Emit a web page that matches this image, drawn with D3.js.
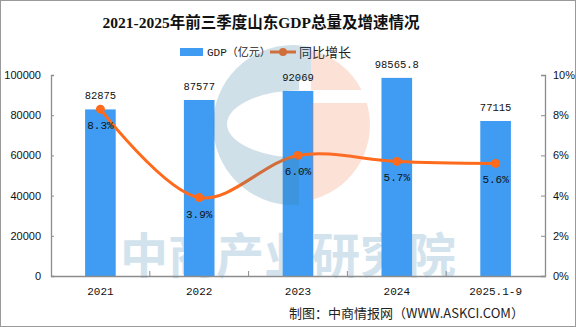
<!DOCTYPE html>
<html><head><meta charset="utf-8">
<script src="https://cdn.jsdelivr.net/npm/d3@7"></script>
<style>body{margin:0;background:#fff}svg{display:block}</style>
</head><body><svg id="c" width="576" height="327"></svg>
<script>
const categories = ["2021", "2022", "2023", "2024", "2025.1-9"];
const gdpValues = [82875, 87577, 92069, 98565.8, 77115];
const gdpLabels = ["82875", "87577", "92069", "98565.8", "77115"];
const growthValues = [8.3, 3.9, 6.0, 5.7, 5.6];
const growthLabels = ["8.3%", "3.9%", "6.0%", "5.7%", "5.6%"];
const leftTicks = [0, 20000, 40000, 60000, 80000, 100000];
const rightTicks = [0, 2, 4, 6, 8, 10];

const svg = d3.select("#c");
const W = 576, H = 327;
const m = {l: 51, r: 545, t: 75, b: 276};
const blue = "#3f9cf2", orange = "#ff6a1c", axisCol = "#8c8c8c";
const mono = "'Liberation Mono', 'DejaVu Sans Mono', 'Noto Sans CJK SC', monospace";
const sans = "'Liberation Sans', Arial, 'Noto Sans CJK SC', sans-serif";

svg.append("rect").attr("x",0.5).attr("y",0.5).attr("width",W-1).attr("height",H-1)
  .attr("fill","#fff").attr("stroke","#9a9a9a");

const x = d3.scaleBand().domain(categories).range([m.l, m.r]).padding(0);
const y = d3.scaleLinear().domain([0, 100000]).range([m.b, m.t]);
const y2 = d3.scaleLinear().domain([0, 10]).range([m.b, m.t]);

// text watermark (behind)
svg.append("text").attr("x", 288).attr("y", 273).attr("text-anchor","middle")
  .attr("font-family","'Noto Sans CJK SC'").attr("font-weight","bold").attr("font-size",48)
  .attr("fill","#d3e3ee").text("中商产业研究院");

// title
svg.append("text").attr("x", 261).attr("y", 28).attr("text-anchor","middle")
  .attr("font-family","'Liberation Serif','DejaVu Serif','Noto Sans CJK SC',serif")
  .attr("font-weight","bold").attr("font-size",15.5).attr("fill","#111")
  .text("2021-2025年前三季度山东GDP总量及增速情况");

// legend
svg.append("rect").attr("x",180).attr("y",48).attr("width",23).attr("height",8).attr("fill",blue);
svg.append("text").attr("x",207).attr("y",56).attr("font-family",mono).attr("font-size",11)
  .attr("fill","#222").text("GDP（亿元）");
svg.append("line").attr("x1",270).attr("x2",296).attr("y1",52).attr("y2",52)
  .attr("stroke",orange).attr("stroke-width",3);
svg.append("circle").attr("cx",283).attr("cy",52).attr("r",4).attr("fill",orange);
svg.append("text").attr("x",299).attr("y",57).attr("font-family","'Noto Sans CJK SC'").attr("font-size",13)
  .attr("fill","#222").text("同比增长");

// bars
const bw = x.bandwidth() * 0.31;
svg.append("g").selectAll("rect").data(gdpValues).join("rect")
  .attr("x",(d,i)=>x(categories[i]) + x.bandwidth()/2 - bw/2)
  .attr("y",d=>y(d)).attr("width",bw).attr("height",d=>m.b - y(d)).attr("fill",blue);

// line
const line = d3.line().x((d,i)=>x(categories[i]) + x.bandwidth()/2).y(d=>y2(d))
  .curve(d3.curveCatmullRom.alpha(0.5));
svg.append("path").datum(growthValues).attr("d",line).attr("fill","none")
  .attr("stroke",orange).attr("stroke-width",3);
svg.append("g").selectAll("circle").data(growthValues).join("circle")
  .attr("cx",(d,i)=>x(categories[i]) + x.bandwidth()/2).attr("cy",d=>y2(d)).attr("r",4.5).attr("fill",orange);

// logo watermark (on top, translucent)
const cx = 293, cy = 125, R = 80;
const defs = svg.append("defs");
const mk = defs.append("mask").attr("id","bm");
mk.append("rect").attr("x",0).attr("y",0).attr("width",W).attr("height",H).attr("fill","#000");
mk.append("circle").attr("cx",cx).attr("cy",cy).attr("r",R).attr("fill","#fff");
mk.append("rect").attr("x",cx+6).attr("y",cy-R-2).attr("width",R).attr("height",R*2+4).attr("fill","#000");
mk.append("ellipse").attr("cx",cx+10).attr("cy",cy-1).attr("rx",R-4).attr("ry",34).attr("fill","#000");
const mk2 = defs.append("mask").attr("id","om");
mk2.append("rect").attr("x",0).attr("y",0).attr("width",W).attr("height",H).attr("fill","#000");
mk2.append("circle").attr("cx",cx).attr("cy",cy).attr("r",R-3).attr("fill","#fff");
mk2.append("rect").attr("x",cx-R).attr("y",cy-R).attr("width",R+18).attr("height",R*2).attr("fill","#000");
mk2.append("rect").attr("x",cx).attr("y",cy-35).attr("width",R).attr("height",13).attr("fill","#000");
const mk3 = defs.append("mask").attr("id","tm");
mk3.append("rect").attr("x",0).attr("y",0).attr("width",W).attr("height",H).attr("fill","#000");
mk3.append("circle").attr("cx",cx).attr("cy",cy).attr("r",R).attr("fill","#fff");
mk3.append("rect").attr("x",cx-R).attr("y",cy-R+35).attr("width",R*2).attr("height",R*2).attr("fill","#000");
mk3.append("rect").attr("x",cx+18).attr("y",cy-R).attr("width",R).attr("height",R*2).attr("fill","#000");
mk3.append("rect").attr("x",cx-R).attr("y",cy-R).attr("width",R+6).attr("height",R*2).attr("fill","#000");
svg.append("rect").attr("width",W).attr("height",H).attr("fill","rgba(60,125,165,0.24)").attr("mask","url(#bm)");
svg.append("rect").attr("width",W).attr("height",H).attr("fill","rgba(60,125,165,0.24)").attr("mask","url(#tm)");
svg.append("rect").attr("width",W).attr("height",H).attr("fill","rgba(240,120,70,0.22)").attr("mask","url(#om)");

// axes
const gl = svg.append("g").attr("transform",`translate(${m.l},0)`)
  .call(d3.axisLeft(y).tickValues(leftTicks).tickSize(-3).tickPadding(10).tickFormat(d3.format("d")));
const gr = svg.append("g").attr("transform",`translate(${m.r},0)`)
  .call(d3.axisRight(y2).tickValues(rightTicks).tickSize(-4).tickPadding(8).tickFormat(d=>d+"%"));
const gb = svg.append("g").attr("transform",`translate(0,${m.b})`)
  .call(d3.axisBottom(x).tickSize(0).tickPadding(11));
[gl, gr, gb].forEach(g=>{
  g.select(".domain").attr("stroke",axisCol).attr("stroke-width",1.3);
  g.selectAll(".tick line").attr("stroke",axisCol);
  g.selectAll("text").attr("fill","#111").attr("font-size",11);
});
gl.selectAll("text").attr("font-family",sans);
gr.selectAll("text").attr("font-family",sans);
gb.selectAll("text").attr("font-family",mono).attr("font-size",11);
// category boundary ticks
svg.append("g").selectAll("line").data(categories.slice(1)).join("line")
  .attr("x1",d=>x(d)).attr("x2",d=>x(d)).attr("y1",m.b).attr("y2",m.b-5).attr("stroke",axisCol);

// labels
svg.append("g").selectAll("text").data(gdpValues).join("text")
  .attr("x",(d,i)=>x(categories[i]) + x.bandwidth()/2).attr("y",d=>y(d)-10)
  .attr("text-anchor","middle").attr("font-family",mono).attr("font-size",10.5).attr("fill","#111")
  .text((d,i)=>gdpLabels[i]);
svg.append("g").selectAll("text").data(growthValues).join("text")
  .attr("x",(d,i)=>x(categories[i]) + x.bandwidth()/2).attr("y",d=>y2(d)+20)
  .attr("text-anchor","middle").attr("font-family",mono).attr("font-size",11).attr("fill","#111")
  .text((d,i)=>growthLabels[i]);

// footer
svg.append("text").attr("x",289).attr("y",318).attr("font-family","'Noto Sans CJK SC'").attr("font-size",13)
  .attr("fill","#222").text("制图：中商情报网（WWW.ASKCI.COM）");
</script></body></html>
